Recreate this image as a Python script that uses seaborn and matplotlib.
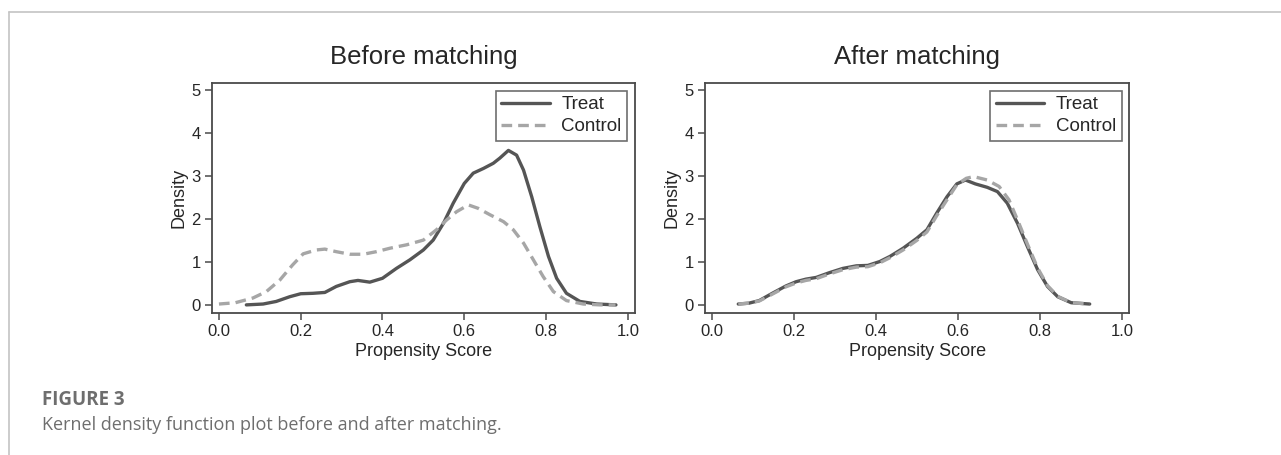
import numpy as np
import pandas as pd
import matplotlib
matplotlib.use("Agg")
import matplotlib.pyplot as plt
import seaborn as sns
from matplotlib.lines import Line2D

# density curves (propensity score, density)
before_treat_x = [0.067, 0.108, 0.14, 0.173, 0.2, 0.23, 0.259, 0.287, 0.32, 0.34, 0.369, 0.40,
                  0.434, 0.467, 0.5, 0.524, 0.549, 0.573, 0.60, 0.622, 0.647, 0.671, 0.687, 0.708,
                  0.728, 0.745, 0.765, 0.785, 0.806, 0.826, 0.85, 0.883, 0.924, 0.971]
before_treat_y = [0.0, 0.02, 0.08, 0.19, 0.26, 0.27, 0.29, 0.43, 0.54, 0.57, 0.53, 0.62,
                  0.85, 1.05, 1.28, 1.51, 1.9, 2.37, 2.83, 3.07, 3.18, 3.3, 3.42, 3.6,
                  3.49, 3.14, 2.52, 1.82, 1.13, 0.62, 0.27, 0.08, 0.02, 0.0]

before_ctrl_x = [0.0, 0.04, 0.083, 0.116, 0.149, 0.18, 0.206, 0.238, 0.259, 0.287, 0.32, 0.353,
                 0.385, 0.418, 0.459, 0.5, 0.532, 0.557, 0.581, 0.61, 0.634, 0.663, 0.696, 0.72,
                 0.745, 0.769, 0.793, 0.818, 0.85, 0.891, 0.932, 0.97]
before_ctrl_y = [0.02, 0.05, 0.16, 0.31, 0.58, 0.93, 1.19, 1.28, 1.30, 1.24, 1.18, 1.18,
                 1.24, 1.32, 1.40, 1.51, 1.75, 1.98, 2.17, 2.33, 2.25, 2.10, 1.94, 1.75,
                 1.44, 1.05, 0.66, 0.31, 0.1, 0.02, 0.0, 0.0]

after_treat_x = [0.064, 0.09, 0.115, 0.147, 0.18, 0.205, 0.229, 0.254, 0.286, 0.319, 0.352, 0.38,
                 0.409, 0.434, 0.466, 0.499, 0.524, 0.548, 0.573, 0.597, 0.618, 0.642, 0.671,
                 0.696, 0.72, 0.745, 0.769, 0.794, 0.818, 0.843, 0.876, 0.921]
after_treat_y = [0.02, 0.04, 0.10, 0.27, 0.44, 0.54, 0.60, 0.64, 0.75, 0.85, 0.91, 0.92,
                 1.01, 1.13, 1.32, 1.55, 1.75, 2.14, 2.52, 2.82, 2.91, 2.82, 2.74,
                 2.64, 2.37, 1.90, 1.36, 0.82, 0.43, 0.19, 0.05, 0.02]

after_ctrl_x = [0.064, 0.09, 0.115, 0.147, 0.18, 0.205, 0.229, 0.254, 0.286, 0.319, 0.352, 0.38,
                0.409, 0.434, 0.466, 0.499, 0.524, 0.548, 0.573, 0.597, 0.62, 0.638, 0.671,
                0.70, 0.724, 0.745, 0.769, 0.794, 0.818, 0.843, 0.876, 0.921]
after_ctrl_y = [0.02, 0.04, 0.09, 0.25, 0.42, 0.51, 0.57, 0.61, 0.72, 0.82, 0.88, 0.89,
                0.98, 1.10, 1.28, 1.50, 1.70, 2.08, 2.45, 2.80, 2.95, 2.99, 2.91,
                2.76, 2.45, 1.98, 1.42, 0.86, 0.45, 0.20, 0.05, 0.02]

panels = [
    ("Before matching", before_treat_x, before_treat_y, before_ctrl_x, before_ctrl_y),
    ("After matching", after_treat_x, after_treat_y, after_ctrl_x, after_ctrl_y),
]
x_ticks = [0.0, 0.2, 0.4, 0.6, 0.8, 1.0]
y_ticks = [0, 1, 2, 3, 4, 5]

sns.set_theme(style="white")
plt.rcParams["font.family"] = ["Liberation Sans", "DejaVu Sans"]

fig = plt.figure(figsize=(12.81, 4.55), dpi=100)
axes_pos = [[0.1655, 0.312, 0.330, 0.5055], [0.5504, 0.312, 0.331, 0.5055]]

frame_col = "#4a4a4a"
for pos, (title, tx, ty, cx, cy) in zip(axes_pos, panels):
    ax = fig.add_axes(pos)
    sns.lineplot(x=tx, y=ty, ax=ax, color="#555555", linewidth=2.4,
                 sort=False, estimator=None, label="Treat")
    sns.lineplot(x=cx, y=cy, ax=ax, color="#a6a6a6", linewidth=2.4,
                 linestyle=(0, (3.2, 1.8)), sort=False, estimator=None, label="Control")
    ax.set_xlim(-0.017, 1.017)
    ax.set_ylim(-0.19, 5.17)
    ax.set_xticks(x_ticks)
    ax.set_xticklabels([f"{t:.1f}" for t in x_ticks])
    ax.set_yticks(y_ticks)
    ax.tick_params(axis="both", direction="out", length=5, width=1.1,
                   color=frame_col, labelsize=12, pad=3, bottom=True, left=True)
    for s in ax.spines.values():
        s.set_color(frame_col)
        s.set_linewidth(1.3)
    ax.set_title(title, fontsize=18.5, pad=14)
    ax.set_xlabel("Propensity Score", fontsize=13, labelpad=3)
    ax.set_ylabel("Density", fontsize=13, labelpad=3)
    leg = ax.legend(loc="upper right", fontsize=13.5, frameon=True, fancybox=False,
                    handlelength=2.6, borderpad=0.3, labelspacing=0.25,
                    borderaxespad=0.4, handletextpad=0.6)
    leg.get_frame().set_edgecolor(frame_col)
    leg.get_frame().set_linewidth(1.2)

# page border lines
fig.add_artist(Line2D([9 / 1281, 1], [1 - 12 / 455, 1 - 12 / 455], color="#c4c4c4", lw=1.2))
fig.add_artist(Line2D([9 / 1281, 9 / 1281], [0, 1 - 12 / 455], color="#c4c4c4", lw=1.2))

fig.text(42 / 1281, 1 - 400 / 455, "FIGURE 3", fontsize=13.5, fontweight="bold",
         color="#6e6e6e", va="center", family=["Open Sans", "DejaVu Sans"])
fig.text(42 / 1281, 1 - 425 / 455, "Kernel density function plot before and after matching.",
         fontsize=13, color="#6e6e6e", va="center", family=["Open Sans", "DejaVu Sans"])

fig.savefig("out.png", dpi=100)
